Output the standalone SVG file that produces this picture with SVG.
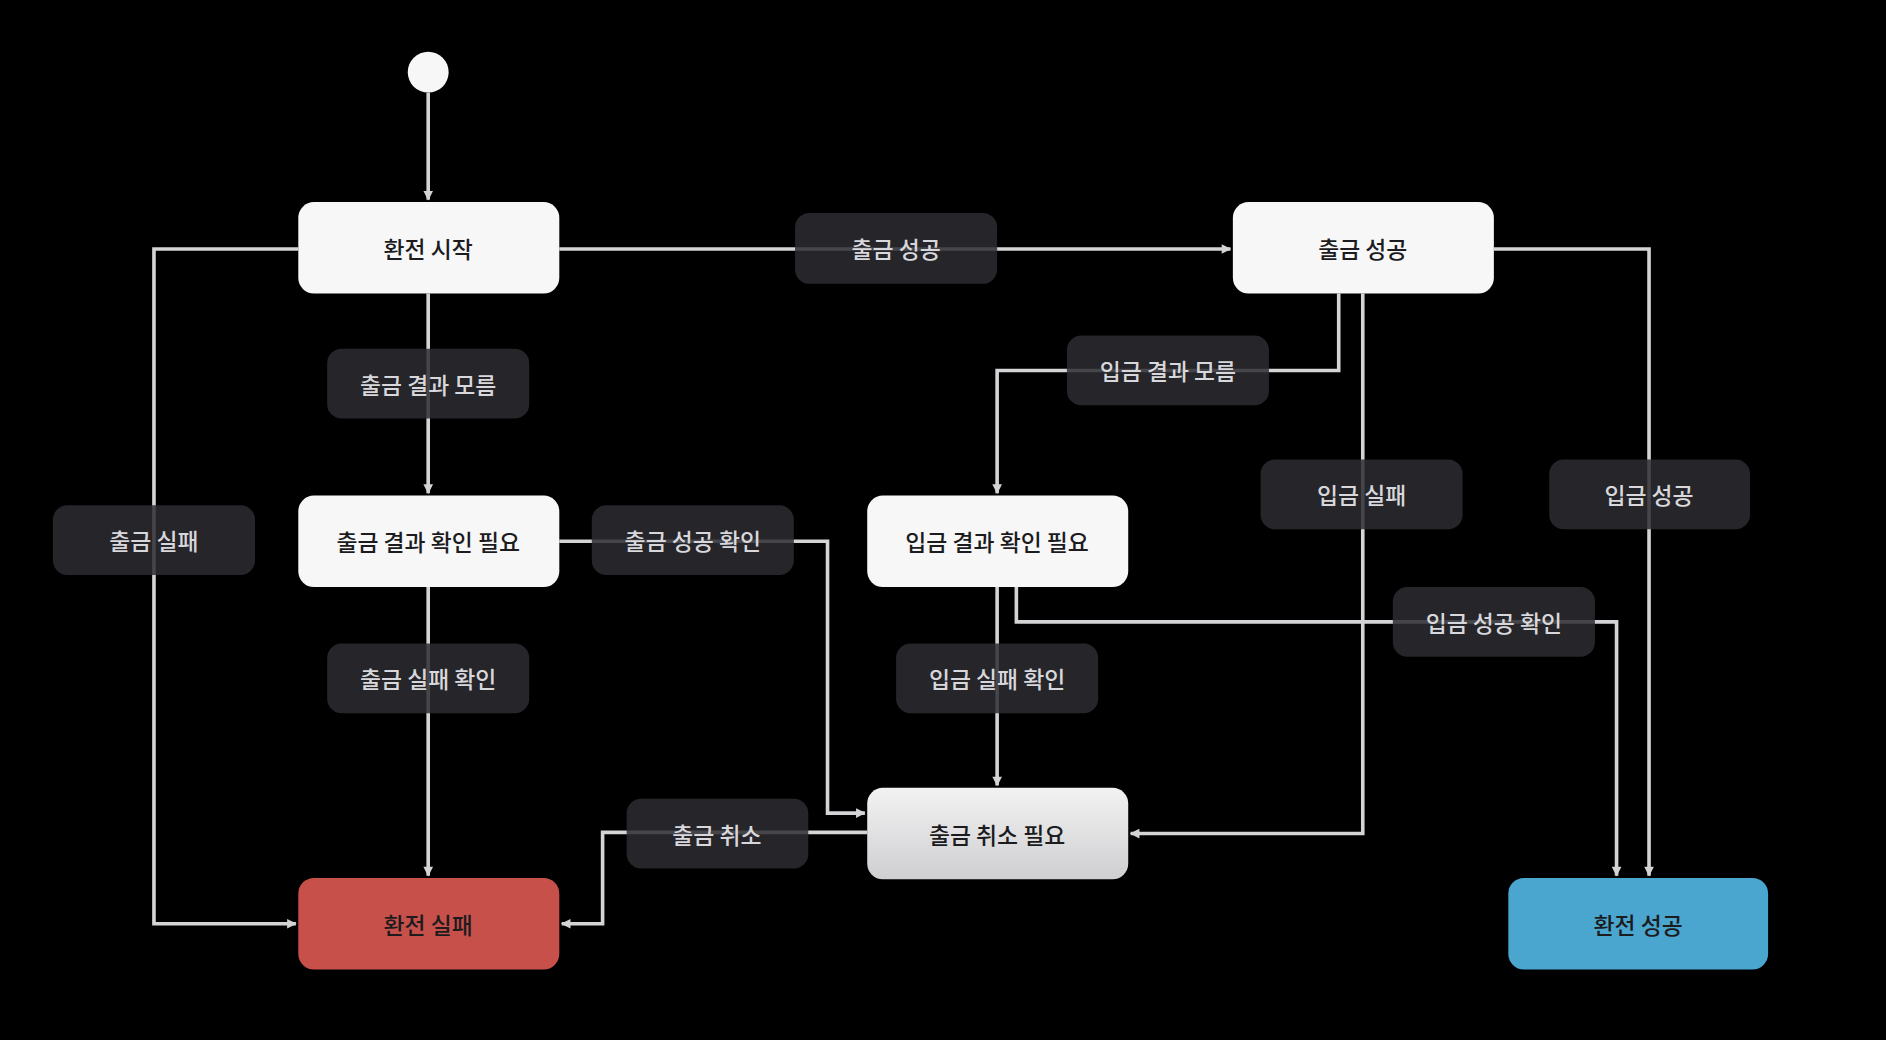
<svg xmlns="http://www.w3.org/2000/svg" width="1886" height="1040" viewBox="0 0 1886 1040">
<defs>
<style>
.n{fill:#f7f7f8}
.t{font-family:"Noto Sans CJK KR","Noto Sans",sans-serif;font-size:19px;font-weight:500;text-anchor:middle;dominant-baseline:central}
.dt{fill:#1c1c1e}
.lt{fill:#d8d8dc}
.c{fill:none;stroke:#d4d4d6;stroke-width:3;marker-end:url(#a)}
.lb{fill:#2b2c31;fill-opacity:0.85}
</style>
<marker id="a" viewBox="0 0 10 10" refX="9" refY="5" markerWidth="5" markerHeight="5" orient="auto" markerUnits="userSpaceOnUse" style="overflow:visible">
<path d="M0,0 L10,5 L0,10 z" fill="#d4d4d6" transform="scale(1.6) translate(-3.5,-1.9)"/>
</marker>
<linearGradient id="g" x1="0" y1="0" x2="0" y2="1"><stop offset="0" stop-color="#f2f2f3"/><stop offset="1" stop-color="#cfcfd1"/></linearGradient>
</defs>
<rect width="1886" height="1040" fill="#000"/>
<g transform="scale(1.2028)">
<g id="connectors">
<path class="c" d="M356,77 V166"/>
<path class="c" d="M465,207 H1023"/>
<path class="c" d="M356,244 V410"/>
<path class="c" d="M248,207 H128 V768 H246"/>
<path class="c" d="M1113,244 V308 H829 V410"/>
<path class="c" d="M1133,244 V693 H940"/>
<path class="c" d="M1242,207 H1371 V728"/>
<path class="c" d="M465,450 H688 V676 H719"/>
<path class="c" d="M356,488 V728"/>
<path class="c" d="M829,488 V653"/>
<path class="c" d="M845,488 V517 H1344 V728"/>
<path class="c" d="M721,692 H501 V768 H467"/>
</g>
<g id="labels">
<g><rect class="lb" x="661" y="177" width="168" height="59" rx="12"/><text class="t lt" x="745" y="206">출금 성공</text></g>
<g><rect class="lb" x="272" y="290" width="168" height="58" rx="12"/><text class="t lt" x="356" y="319">출금 결과 모름</text></g>
<g><rect class="lb" x="887" y="279" width="168" height="58" rx="12"/><text class="t lt" x="971" y="308">입금 결과 모름</text></g>
<g><rect class="lb" x="44" y="420" width="168" height="58" rx="12"/><text class="t lt" x="128" y="449">출금 실패</text></g>
<g><rect class="lb" x="492" y="420" width="168" height="58" rx="12"/><text class="t lt" x="576" y="449">출금 성공 확인</text></g>
<g><rect class="lb" x="1048" y="382" width="168" height="58" rx="12"/><text class="t lt" x="1132" y="411">입금 실패</text></g>
<g><rect class="lb" x="1288" y="382" width="167" height="58" rx="12"/><text class="t lt" x="1371" y="411">입금 성공</text></g>
<g><rect class="lb" x="272" y="535" width="168" height="58" rx="12"/><text class="t lt" x="356" y="564">출금 실패 확인</text></g>
<g><rect class="lb" x="745" y="535" width="168" height="58" rx="12"/><text class="t lt" x="829" y="564">입금 실패 확인</text></g>
<g><rect class="lb" x="1158" y="488" width="168" height="58" rx="12"/><text class="t lt" x="1242" y="517">입금 성공 확인</text></g>
<g><rect class="lb" x="521" y="664" width="151" height="58" rx="12"/><text class="t lt" x="596" y="693">출금 취소</text></g>
</g>
<g id="start"><circle cx="356" cy="60" r="17" fill="#f7f7f8"/></g>
<g id="n1"><rect class="n" x="248" y="168" width="217" height="76" rx="13"/><text class="t dt" x="356" y="206">환전 시작</text></g>
<g id="n2"><rect class="n" x="1025" y="168" width="217" height="76" rx="13"/><text class="t dt" x="1133" y="206">출금 성공</text></g>
<g id="n3"><rect class="n" x="248" y="412" width="217" height="76" rx="13"/><text class="t dt" x="356" y="450">출금 결과 확인 필요</text></g>
<g id="n4"><rect class="n" x="721" y="412" width="217" height="76" rx="13"/><text class="t dt" x="829" y="450">입금 결과 확인 필요</text></g>
<g id="n5"><rect x="721" y="655" width="217" height="76" rx="13" fill="url(#g)"/><text class="t dt" x="829" y="693">출금 취소 필요</text></g>
<g id="n6"><rect x="248" y="730" width="217" height="76" rx="13" fill="#c8504a"/><text class="t dt" x="356" y="768">환전 실패</text></g>
<g id="n7"><rect x="1254" y="730" width="216" height="76" rx="13" fill="#4aa6cf"/><text class="t dt" x="1362" y="768">환전 성공</text></g>
</g>
</svg>
